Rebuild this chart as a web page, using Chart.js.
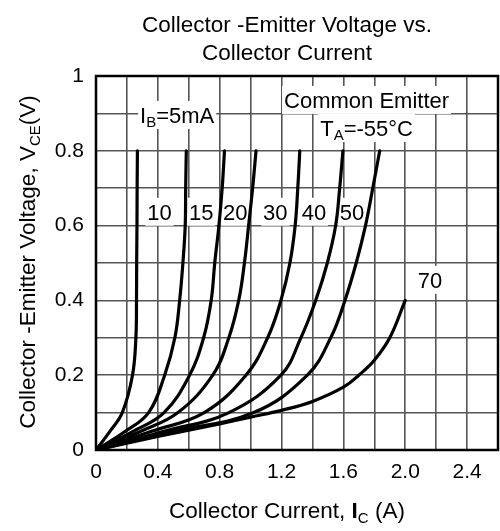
<!DOCTYPE html>
<html>
<head>
<meta charset="utf-8">
<script src="https://cdn.jsdelivr.net/npm/chart.js@4.4.0/dist/chart.umd.min.js"></script>
<style>
html, body { margin: 0; padding: 0; background: #fff; }
#wrap { width: 500px; height: 531px; }
</style>
</head>
<body>
<div id="wrap"><canvas id="vceChart"></canvas></div>
<script>
// base current of each curve (mA)
var ibLabels = ['5', '10', '15', '20', '30', '40', '50', '70'];

// V_CE points (V)
var vceSteps = [0, 0.05, 0.1, 0.2, 0.3, 0.4, 0.5, 0.6, 0.7, 0.8];
var vce70    = [0, 0.036, 0.07, 0.088, 0.106, 0.13, 0.168, 0.2, 0.24, 0.3, 0.4];

// I_C (A) at those voltages
var ic5  = [0, 0.09, 0.17, 0.236, 0.258, 0.262, 0.263, 0.265, 0.266, 0.268];
var ic10 = [0, 0.19, 0.34, 0.444, 0.51, 0.541, 0.562, 0.577, 0.58, 0.584];
var ic15 = [0, 0.24, 0.44, 0.605, 0.696, 0.745, 0.768, 0.795, 0.816, 0.831];
var ic20 = [0, 0.29, 0.53, 0.755, 0.859, 0.923, 0.96, 0.987, 1.013, 1.035];
var ic30 = [0, 0.36, 0.70, 0.97, 1.11, 1.196, 1.254, 1.288, 1.305, 1.318];
var ic40 = [0, 0.44, 0.86, 1.196, 1.325, 1.421, 1.496, 1.55, 1.576, 1.597];
var ic50 = [0, 0.50, 1.02, 1.367, 1.518, 1.61, 1.683, 1.743, 1.79, 1.835];
var ic70 = [0, 0.4, 0.8, 1.0, 1.2, 1.4, 1.6, 1.7, 1.8, 1.9, 2.0];

// tick labels
var xTickLabels = ['0', '0.4', '0.8', '1.2', '1.6', '2.0', '2.4'];
var yTickLabels = ['0', '0.2', '0.4', '0.6', '0.8', '1'];

var FONT = '"Liberation Sans", Arial, Helvetica, sans-serif';
var TXT = 22.5;
Chart.defaults.font.family = FONT;
Chart.defaults.color = '#000';

function pts(ic, vce) {
    return ic.map(function (v, i) { return { x: v, y: vce[i] }; });
}

var curves = [
    pts(ic5, vceSteps), pts(ic10, vceSteps), pts(ic15, vceSteps), pts(ic20, vceSteps),
    pts(ic30, vceSteps), pts(ic40, vceSteps), pts(ic50, vceSteps), pts(ic70, vce70)
];

// rich text: parts = [[text, style]], style '' | 'b' (bold) | 's' (subscript)
function partFont(style, size) {
    if (style === 's') return Math.round(size * 0.66) + 'px ' + FONT;
    if (style === 'b') return 'bold ' + size + 'px ' + FONT;
    return size + 'px ' + FONT;
}
function richWidth(ctx, parts, size) {
    var w = 0;
    parts.forEach(function (p) { ctx.font = partFont(p[1], size); w += ctx.measureText(p[0]).width; });
    return w;
}
function drawRich(ctx, parts, x, y, size) {
    ctx.textAlign = 'left';
    ctx.textBaseline = 'alphabetic';
    parts.forEach(function (p) {
        ctx.font = partFont(p[1], size);
        ctx.fillText(p[0], x, p[1] === 's' ? y + size * 0.2 : y);
        x += ctx.measureText(p[0]).width;
    });
}

// labels inside the plot, placed at data coordinates (centre)
var notes = [
    { parts: [['I', ''], ['B', 's'], ['=5mA', '']], x: 0.525, y: 0.896 },
    { parts: [['Common Emitter', '']], x: 1.75, y: 0.936 },
    { parts: [['T', ''], ['A', 's'], ['=-55°C', '']], x: 1.75, y: 0.861 },
    { parts: [['10', '']], x: 0.41, y: 0.637 },
    { parts: [['15', '']], x: 0.68, y: 0.637 },
    { parts: [['20', '']], x: 0.90, y: 0.637 },
    { parts: [['30', '']], x: 1.16, y: 0.637 },
    { parts: [['40', '']], x: 1.41, y: 0.637 },
    { parts: [['50', '']], x: 1.655, y: 0.637 },
    { parts: [['70', '']], x: 2.16, y: 0.455 }
];

var decorations = {
    id: 'decorations',
    beforeDatasetsDraw: function (chart) {
        var ctx = chart.ctx, xs = chart.scales.x, ys = chart.scales.y;
        ctx.save();
        notes.forEach(function (n) {
            var size = 22;
            var w = richWidth(ctx, n.parts, size);
            var cx = xs.getPixelForValue(n.x), cy = ys.getPixelForValue(n.y);
            ctx.fillStyle = '#fff';
            ctx.fillRect(cx - w / 2 - 2, cy - 14, w + 4, 28);
            ctx.fillStyle = '#000';
            drawRich(ctx, n.parts, cx - w / 2, cy + 8, size);
        });
        ctx.restore();
    },
    afterDraw: function (chart) {
        var ctx = chart.ctx, a = chart.chartArea;
        ctx.save();
        ctx.strokeStyle = '#000';
        ctx.lineWidth = 2.5;
        ctx.strokeRect(a.left, a.top, a.right - a.left, a.bottom - a.top);

        ctx.fillStyle = '#000';
        ctx.textAlign = 'center';
        ctx.textBaseline = 'alphabetic';
        ctx.font = TXT + 'px ' + FONT;
        var mid = (a.left + a.right) / 2 - 10;
        ctx.fillText('Collector -Emitter Voltage vs.', mid, 31.5);
        ctx.fillText('Collector Current', mid, 59.5);

        var xt = [['Collector Current, ', ''], ['I', 'b'], ['C', 's'], [' (A)', '']];
        var w = richWidth(ctx, xt, TXT);
        drawRich(ctx, xt, mid - w / 2, 518, TXT);

        var yt = [['Collector -Emitter Voltage, V', ''], ['CE', 's'], ['(V)', '']];
        ctx.translate(35, (a.top + a.bottom) / 2 - 1);
        ctx.rotate(-Math.PI / 2);
        w = richWidth(ctx, yt, TXT);
        drawRich(ctx, yt, -w / 2, 0, TXT);
        ctx.restore();
    }
};

new Chart(document.getElementById('vceChart'), {
    type: 'line',
    data: {
        datasets: curves.map(function (c, i) {
            return { label: 'IB=' + ibLabels[i] + 'mA', data: c };
        })
    },
    options: {
        indexAxis: 'y',
        responsive: true,
        maintainAspectRatio: false,
        animation: false,
        layout: { padding: { top: 76, right: 2, left: 0, bottom: 0 } },
        elements: {
            point: { radius: 0 },
            line: { borderColor: '#000', borderWidth: 3.2, tension: 0.4, fill: false, borderCapStyle: 'round' }
        },
        plugins: { legend: { display: false }, tooltip: { enabled: false }, title: { display: false } },
        scales: {
            x: {
                type: 'linear', min: 0, max: 2.6,
                grid: { color: '#555', lineWidth: 1.6, drawTicks: false },
                border: { display: false },
                ticks: {
                    stepSize: 0.2, autoSkip: false, maxRotation: 0, padding: 10,
                    font: { size: 21 },
                    callback: function (v) {
                        var k = Math.round(v / 0.2);
                        return k % 2 === 0 ? xTickLabels[k / 2] : '';
                    }
                },
                afterFit: function (s) { s.height = 81; s.paddingRight = 0; s.paddingLeft = 0; }
            },
            y: {
                type: 'linear', min: 0, max: 1,
                grid: { color: '#555', lineWidth: 1.6, drawTicks: false },
                border: { display: false },
                ticks: {
                    stepSize: 0.1, autoSkip: false, padding: 12,
                    font: { size: 21 },
                    callback: function (v) {
                        var k = Math.round(v / 0.1);
                        return k % 2 === 0 ? yTickLabels[k / 2] : '';
                    }
                },
                afterFit: function (s) { s.width = 96; s.paddingTop = 0; s.paddingBottom = 0; }
            }
        }
    },
    plugins: [decorations]
});
</script>
</body>
</html>
